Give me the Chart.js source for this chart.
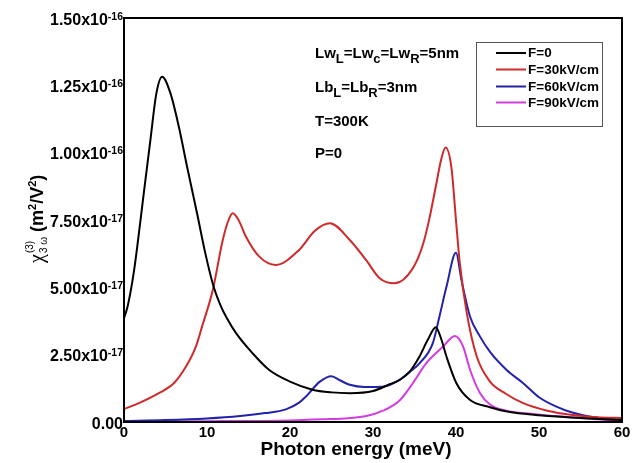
<!DOCTYPE html>
<html lang="en">
<head>
<meta charset="UTF-8">
<title>Third harmonic susceptibility vs photon energy</title>
<script src="https://cdn.jsdelivr.net/npm/chart.js"></script>
<style>
  html, body { margin: 0; padding: 0; background: #fff; }
  #wrap { width: 641px; height: 463px; }
</style>
</head>
<body>
<div id="wrap"><canvas id="chi3Chart"></canvas></div>
<script>
// values in units of 1e-17 m^2/V^2, x in meV
const blackX = [0, 0.4, 0.8, 1.2, 1.57, 2.38, 3.18, 3.9, 4.59, 5.6, 6.6, 7.6, 8.8, 9.8, 10.8, 11.6, 12.4, 13.5, 15.5, 17.5, 20, 22.7, 25, 27.2, 30, 32, 33.2, 34.5, 35.6, 36.6, 37.56, 38.2, 38.85, 40.05, 41.7, 44.1, 46, 50, 55, 60];
const blackY = [3.85, 4.25, 4.85, 5.6, 6.45, 8.49, 10.47, 12.2, 12.82, 12.2, 10.97, 9.48, 7.75, 6.26, 5.02, 4.35, 3.85, 3.3, 2.55, 1.93, 1.5, 1.2, 1.1, 1.07, 1.15, 1.4, 1.56, 1.9, 2.43, 3.05, 3.52, 3.1, 2.43, 1.44, 0.82, 0.55, 0.4, 0.25, 0.15, 0.07];

const redX = [0, 1.8, 4.2, 6, 7.45, 8.66, 9.4, 10.7, 11.9, 12.6, 13.1, 13.8, 14.7, 16.3, 18.3, 21.1, 23, 24.8, 27.2, 29.2, 30.8, 32.6, 34.8, 36.0, 36.8, 37.6, 38.25, 38.74, 39.46, 39.98, 40.46, 41.3, 42.5, 44.1, 46, 48.1, 51, 54.1, 57, 60];
const redY = [0.48, 0.7, 1.07, 1.44, 2.05, 2.8, 3.54, 4.9, 6.76, 7.5, 7.75, 7.5, 6.88, 6.14, 5.83, 6.39, 7.1, 7.38, 6.76, 6.0, 5.34, 5.15, 5.71, 6.57, 7.56, 8.8, 9.79, 10.19, 9.42, 7.56, 5.9, 4.04, 2.43, 1.5, 1.05, 0.7, 0.42, 0.26, 0.18, 0.15];

const blueX = [0, 5, 10, 14, 17, 19.5, 21.1, 21.9, 23.6, 25, 26, 27.2, 29, 31.2, 33.2, 34.4, 35.6, 37.2, 38.0, 38.85, 40.0, 40.66, 41.7, 42.9, 44.1, 46.1, 48.1, 50, 52.1, 54, 56.2, 60];
const blueY = [0.04, 0.07, 0.13, 0.22, 0.33, 0.47, 0.72, 0.94, 1.5, 1.7, 1.55, 1.38, 1.3, 1.31, 1.56, 1.85, 2.18, 2.92, 3.91, 5.02, 6.28, 5.27, 3.91, 3.17, 2.6, 1.93, 1.44, 0.92, 0.57, 0.35, 0.2, 0.08];

const magentaX = [0, 10, 20, 24, 27, 29.2, 31.2, 33.2, 34.8, 36.4, 38.45, 39.86, 40.86, 41.7, 42.9, 44.1, 46, 48.1, 52, 56, 60];
const magentaY = [0.02, 0.03, 0.06, 0.1, 0.14, 0.22, 0.42, 0.8, 1.44, 2.18, 2.8, 3.19, 2.8, 1.93, 1.07, 0.65, 0.42, 0.33, 0.22, 0.12, 0.05];

const seriesLabels = ['F=0', 'F=30kV/cm', 'F=60kV/cm', 'F=90kV/cm'];
const seriesColors = ['#000000', '#cf2a2a', '#2222aa', '#d43ce0'];

const yTickMantissa = ['0.00', '2.50x10', '5.00x10', '7.50x10', '1.00x10', '1.25x10', '1.50x10'];
const yTickExponent = ['', '-17', '-17', '-17', '-16', '-16', '-16'];

const FONT = '"Liberation Sans", Arial, sans-serif';

function pts(xs, ys) {
    return xs.map((x, i) => ({ x: x, y: ys[i] }));
}

// draw a run of text pieces, each with own size and vertical shift
function drawRuns(ctx, x, y, runs) {
    runs.forEach(r => {
        ctx.font = (r.weight || 'bold') + ' ' + r.size + 'px ' + (r.family || FONT);
        ctx.fillText(r.t, x, y + (r.dy || 0));
        x += ctx.measureText(r.t).width;
    });
    return x;
}

const decorPlugin = {
    id: 'decor',
    afterDraw(chart) {
        const ctx = chart.ctx;
        const a = chart.chartArea;
        const ys = chart.scales.y;
        ctx.save();
        ctx.fillStyle = '#000';
        ctx.strokeStyle = '#000';

        // frame
        ctx.lineWidth = 2;
        ctx.strokeRect(a.left, a.top, a.right - a.left, a.bottom - a.top);

        // y tick labels with superscript exponent
        ctx.textBaseline = 'alphabetic';
        ys.ticks.forEach((tk, i) => {
            const py = ys.getPixelForValue(tk.value);
            ctx.font = 'bold 16px ' + FONT;
            const wm = ctx.measureText(yTickMantissa[i]).width;
            ctx.font = 'bold 10.5px ' + FONT;
            const we = ctx.measureText(yTickExponent[i]).width;
            const x0 = a.left - 1 - wm - we;
            drawRuns(ctx, x0, py + 6.5, [
                { t: yTickMantissa[i], size: 16 },
                { t: yTickExponent[i], size: 10.5, dy: -5 }
            ]);
        });

        // parameter notes
        drawRuns(ctx, 315, 58, [
            { t: 'Lw', size: 15 }, { t: 'L', size: 13, dy: 5 },
            { t: '=Lw', size: 15 }, { t: 'c', size: 13, dy: 5 },
            { t: '=Lw', size: 15 }, { t: 'R', size: 13, dy: 5 },
            { t: '=5nm', size: 15 }
        ]);
        drawRuns(ctx, 315, 92, [
            { t: 'Lb', size: 15 }, { t: 'L', size: 13, dy: 5 },
            { t: '=Lb', size: 15 }, { t: 'R', size: 13, dy: 5 },
            { t: '=3nm', size: 15 }
        ]);
        drawRuns(ctx, 315, 126, [{ t: 'T=300K', size: 15 }]);
        drawRuns(ctx, 315, 158, [{ t: 'P=0', size: 15 }]);

        // legend box
        ctx.lineWidth = 1;
        ctx.strokeStyle = '#555';
        ctx.strokeRect(476.5, 42.5, 126, 84);
        const legY = [53, 69.5, 86.5, 102.5];
        chart.data.datasets.forEach((ds, i) => {
            ctx.strokeStyle = ds.borderColor;
            ctx.lineWidth = 2;
            ctx.beginPath();
            ctx.moveTo(496, legY[i]);
            ctx.lineTo(526, legY[i]);
            ctx.stroke();
            ctx.textBaseline = 'middle';
            ctx.font = 'bold 13.5px ' + FONT;
            ctx.fillText(ds.label, 528, legY[i] + 0.5);
        });
        ctx.textBaseline = 'alphabetic';

        // x axis title
        ctx.font = 'bold 19px ' + FONT;
        ctx.textAlign = 'center';
        ctx.fillText('Photon energy (meV)', 356, 455);
        ctx.textAlign = 'left';

        // y axis title, rotated
        ctx.translate(43, 263);
        ctx.rotate(-Math.PI / 2);
        let x = drawRuns(ctx, 0, 0, [{ t: 'χ', size: 20, weight: 'normal', family: '"Liberation Serif", serif' }]);
        drawRuns(ctx, x + 1, -10, [{ t: '(3)', size: 10, weight: 'normal' }]);
        x = drawRuns(ctx, x + 1, 4, [{ t: '3 ω', size: 10, weight: 'normal' }]);
        drawRuns(ctx, x + 5, 0, [
            { t: '(m', size: 18 }, { t: '2', size: 11, dy: -7 },
            { t: '/V', size: 18 }, { t: '2', size: 11, dy: -7 },
            { t: ')', size: 18 }
        ]);
        ctx.restore();
    }
};

const datasets = [
    { label: seriesLabels[0], data: pts(blackX, blackY), borderColor: seriesColors[0] },
    { label: seriesLabels[1], data: pts(redX, redY), borderColor: seriesColors[1] },
    { label: seriesLabels[2], data: pts(blueX, blueY), borderColor: seriesColors[2] },
    { label: seriesLabels[3], data: pts(magentaX, magentaY), borderColor: seriesColors[3] }
].map(d => Object.assign(d, {
    borderWidth: 2,
    pointRadius: 0,
    fill: false,
    cubicInterpolationMode: 'monotone'
}));

new Chart(document.getElementById('chi3Chart'), {
    type: 'line',
    data: { datasets: datasets },
    options: {
        responsive: true,
        maintainAspectRatio: false,
        animation: false,
        devicePixelRatio: 1,
        layout: { padding: { left: 0, right: 19, top: 18, bottom: 0 } },
        plugins: {
            legend: { display: false },
            tooltip: { enabled: false }
        },
        scales: {
            x: {
                type: 'linear',
                min: 0,
                max: 60,
                grid: { display: false, drawTicks: false },
                border: { display: false },
                ticks: {
                    stepSize: 10,
                    color: '#000',
                    padding: 2,
                    maxRotation: 0,
                    font: { family: FONT, size: 15, weight: 'bold' }
                },
                afterFit: s => { s.height = 41; }
            },
            y: {
                min: 0,
                max: 15,
                grid: { display: false, drawTicks: false },
                border: { display: false },
                ticks: { stepSize: 2.5, display: false },
                afterFit: s => { s.width = 124; }
            }
        }
    },
    plugins: [decorPlugin]
});
</script>
</body>
</html>
